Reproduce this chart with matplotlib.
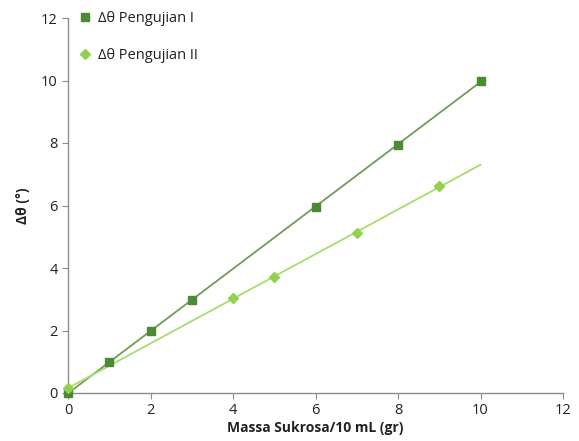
import numpy as np
import matplotlib
matplotlib.use("Agg")
import matplotlib.pyplot as plt

plt.rcParams['font.family'] = ['Open Sans', 'DejaVu Sans']

x1 = [0, 1, 2, 3, 6, 8, 10]
y1 = [0.0, 0.99, 1.98, 2.98, 5.95, 7.94, 9.98]
x2 = [0, 4, 5, 7, 9]
y2 = [0.16, 3.04, 3.71, 5.12, 6.62]
labels = ['Δθ Pengujian I', 'Δθ Pengujian II']

c1_m, c1_l = '#4e8a33', '#6f9c58'
c2_m, c2_l = '#92d050', '#a6de6c'

fig = plt.figure(figsize=(5.79, 4.41), dpi=100)
ax = fig.add_axes([68/579, 1-393/441, (563-68)/579, (393-18)/441])

xx = np.array([0, 10])
p1 = np.polyfit(x1, y1, 1)
p2 = np.polyfit(x2, y2, 1)
ax.plot(xx, np.polyval(p1, xx), color=c1_l, lw=1.3, zorder=2)
ax.plot(xx, np.polyval(p2, xx), color=c2_l, lw=1.3, zorder=2)
ax.plot(x1, y1, ls='none', marker='s', ms=5.8, color=c1_m, label=labels[0], zorder=3)
ax.plot(x2, y2, ls='none', marker='D', ms=4.8, color=c2_m, label=labels[1], zorder=3)

ax.set_xlim(0, 12)
ax.set_ylim(0, 12)
ax.set_xticks(range(0, 13, 2))
ax.set_yticks(range(0, 13, 2))
for s in ['top', 'right']:
    ax.spines[s].set_visible(False)
for s in ['left', 'bottom']:
    ax.spines[s].set_color('#8c8c8c')
    ax.spines[s].set_linewidth(1.0)
ax.tick_params(axis='both', colors='#8c8c8c', labelcolor='#222222', labelsize=10.5, length=4, direction='out')
ax.set_xlabel('Massa Sukrosa/10 mL (gr)', fontsize=10, fontweight='bold', color='#222222', labelpad=2)
ax.set_ylabel('Δθ (°)', fontsize=10, fontweight='bold', color='#222222', labelpad=8)
ax.margins(0)
for a in ax.lines:
    a.set_clip_on(False)

leg = ax.legend(loc='upper left', bbox_to_anchor=(0.01, 1.035), frameon=False, fontsize=10.5,
                handlelength=0.8, handletextpad=0.5, labelspacing=1.55, borderaxespad=0)
for t in leg.get_texts():
    t.set_color('#222222')

fig.savefig('out.png', dpi=100)
